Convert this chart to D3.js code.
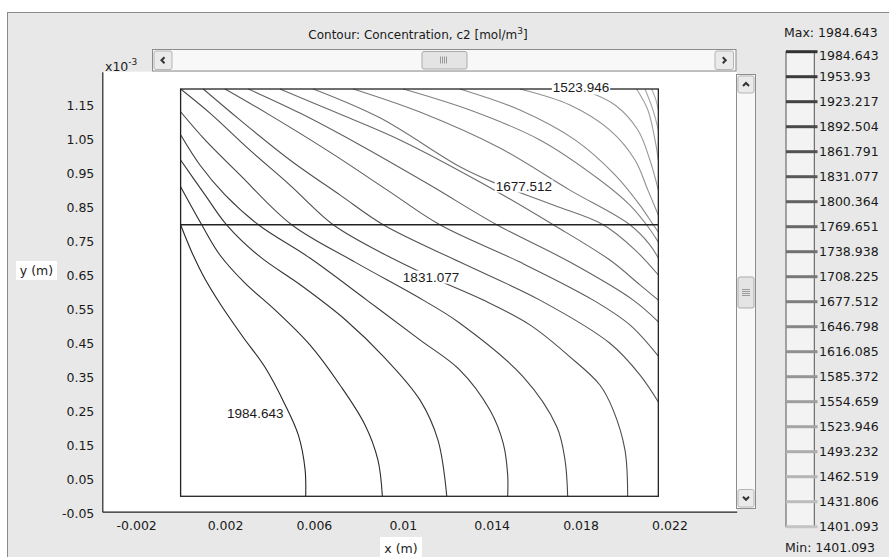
<!DOCTYPE html>
<html><head><meta charset="utf-8">
<script src="https://cdn.jsdelivr.net/npm/d3@7"></script>
<style>
body{margin:0;background:#fff}
svg{display:block}
text{font-family:"DejaVu Sans",Verdana,sans-serif;fill:#1a1a1a}
</style>
</head><body>
<svg id="chart" width="889" height="557"></svg>
<script>
// ---------- data ----------
const levels = [1984.643,1953.93,1923.217,1892.504,1861.791,1831.077,1800.364,1769.651,1738.938,1708.225,
                1677.512,1646.798,1616.085,1585.372,1554.659,1523.946,1493.232,1462.519,1431.806,1401.093];
const levelLabels = ["1984.643","1953.93","1923.217","1892.504","1861.791","1831.077","1800.364","1769.651","1738.938","1708.225",
                     "1677.512","1646.798","1616.085","1585.372","1554.659","1523.946","1493.232","1462.519","1431.806","1401.093"];
const maxValue = 1984.643, minValue = 1401.093;
const xTicks = [-0.002,0.002,0.006,0.01,0.014,0.018,0.022];
const xTickLabels = ["-0.002","0.002","0.006","0.01","0.014","0.018","0.022"];
const yTicks = [-0.05,0.05,0.15,0.25,0.35,0.45,0.55,0.65,0.75,0.85,0.95,1.05,1.15];
const yTickLabels = ["-0.05","0.05","0.15","0.25","0.35","0.45","0.55","0.65","0.75","0.85","0.95","1.05","1.15"];
const domainRect = {x0:0, x1:0.0215, y0:0, y1:1.2};   // geometry (x in m, y in 1e-3 m)
const interfaceY = 0.8;

// contour lines: [x (m), y (x1e-3 m)]
const line0  = [[0,0.80],[0.0005,0.72],[0.0011,0.64],[0.0018,0.565],[0.0028,0.47],[0.0038,0.38],[0.0047,0.27],[0.0053,0.18],[0.0056,0.08],[0.00563,0]];
const line1  = [[0,0.912],[0.00095,0.80],[0.00177,0.711],[0.0029,0.628],[0.00425,0.549],[0.00582,0.446],[0.00717,0.328],[0.0083,0.21],[0.00888,0.107],[0.00908,0]];
const line2  = [[0,0.991],[0.0011,0.888],[0.00207,0.80],[0.00357,0.706],[0.00537,0.624],[0.0074,0.521],[0.0092,0.407],[0.01077,0.284],[0.01158,0.166],[0.01198,0]];
const line3  = [[0,1.065],[0.00087,0.976],[0.0020,0.888],[0.0035,0.80],[0.00582,0.702],[0.00838,0.578],[0.01077,0.461],[0.01257,0.372],[0.01392,0.254],[0.01452,0.156],[0.01472,0.063],[0.01472,0]];
const line4  = [[0,1.133],[0.0011,1.05],[0.00267,0.947],[0.0050,0.80],[0.00785,0.69],[0.01092,0.578],[0.01257,0.51],[0.01542,0.352],[0.01693,0.205],[0.0173,0.107],[0.01742,0]];
const line5  = [[0,1.2],[0.00132,1.129],[0.00312,1.02],[0.00492,0.917],[0.00687,0.80],[0.00897,0.72],[0.01127,0.646],[0.01362,0.578],[0.01572,0.505],[0.01752,0.411],[0.01887,0.328],[0.01947,0.254],[0.0200,0.136],[0.02012,0]];
const line6  = [[0.00102,1.2],[0.00267,1.109],[0.00492,0.991],[0.00717,0.888],[0.00912,0.80],[0.01257,0.69],[0.01617,0.578],[0.01932,0.451],[0.02067,0.358],[0.0215,0.278]];
const line7  = [[0.0020,1.2],[0.00402,1.123],[0.00672,1.014],[0.00942,0.897],[0.01167,0.80],[0.01527,0.69],[0.01857,0.578],[0.02022,0.505],[0.0215,0.413]];
const line8  = [[0.00305,1.2],[0.00537,1.129],[0.00807,1.035],[0.01122,0.917],[0.01423,0.80],[0.01752,0.69],[0.02037,0.578],[0.0215,0.514]];
const line9  = [[0.00447,1.2],[0.00695,1.132],[0.00987,1.05],[0.01347,0.926],[0.01677,0.80],[0.01932,0.696],[0.02067,0.623],[0.0215,0.578]];
const line10 = [[0.00597,1.2],[0.00897,1.115],[0.01257,0.971],[0.01415,0.923],[0.01677,0.858],[0.01902,0.80],[0.02045,0.726],[0.0215,0.652]];
const line11 = [[0.00777,1.2],[0.01077,1.132],[0.01437,1.026],[0.01752,0.902],[0.02022,0.80],[0.02112,0.741],[0.0215,0.702]];
const line12 = [[0.01002,1.2],[0.01302,1.138],[0.01617,1.05],[0.01887,0.932],[0.02022,0.858],[0.02097,0.80],[0.0215,0.749]];
const line13 = [[0.01257,1.2],[0.01527,1.138],[0.01775,1.05],[0.01955,0.947],[0.02067,0.858],[0.02127,0.80],[0.0215,0.779]];
const line14 = [[0.01527,1.2],[0.01752,1.153],[0.01932,1.079],[0.02045,0.991],[0.02103,0.902],[0.0215,0.829]];
const line15 = [[0.01802,1.2],[0.01955,1.153],[0.02058,1.079],[0.02112,0.991],[0.0215,0.902]];
const line16 = [[0.02052,1.2],[0.02103,1.138],[0.02135,1.05],[0.0215,0.991]];
const line17 = [[0.0209,1.2],[0.02126,1.138],[0.0215,1.079]];
const line18 = [[0.0212,1.2],[0.02139,1.168],[0.0215,1.138]];
const contourLines = [line0,line1,line2,line3,line4,line5,line6,line7,line8,line9,line10,line11,line12,line13,line14,line15,line16,line17,line18];

// inline contour labels: level index and anchor point
const labelLevels = [0,5,10,15];
const labelPoints = [[0.00336,0.245],[0.01127,0.646],[0.01545,0.914],[0.01802,1.203]];

// ---------- layout ----------
const svg = d3.select("#chart");
const plot = {left:102.3, right:736.7, top:71.7, bottom:511.7};
const x = d3.scaleLinear().domain([-0.003524,0.025027]).range([plot.left, plot.right]);
const y = d3.scaleLinear().domain([-0.0454,1.251]).range([plot.bottom, plot.top]);
const lineColor = d3.scaleLinear().domain([minValue,maxValue]).range(["#b4b4b4","#262626"]);
const legColor = d3.scaleLinear().domain([minValue,maxValue]).range(["#c4c4c4","#333333"]);

// panel
svg.append("rect").attr("x",7.5).attr("y",12.5).attr("width",900).attr("height",560)
  .attr("fill","#e8e8e8").attr("stroke","#8a8a8a");

// title
const title = svg.append("text").attr("x",418).attr("y",39).attr("text-anchor","middle")
  .style("font-size","12px");
title.append("tspan").text("Contour: Concentration, c2 [mol/m");
title.append("tspan").attr("dy",-5).style("font-size","9px").text("3");
title.append("tspan").attr("dy",5).text("]");

// plot area
svg.append("rect").attr("x",plot.left).attr("y",plot.top).attr("width",plot.right-plot.left)
  .attr("height",plot.bottom-plot.top).attr("fill","#fff");

// axes
const yAxis = d3.axisLeft(y).tickValues(yTicks).tickSize(0).tickPadding(8).tickFormat((d,i) => yTickLabels[i]);
const xAxis = d3.axisBottom(x).tickValues(xTicks).tickSize(0).tickPadding(9).tickFormat((d,i) => xTickLabels[i]);
const gy = svg.append("g").attr("transform",`translate(${plot.left},0)`).call(yAxis);
const gx = svg.append("g").attr("transform",`translate(0,${plot.bottom})`).call(xAxis);
[gx,gy].forEach(g => {
  g.select(".domain").attr("stroke","#222").attr("stroke-width",1.2);
  g.selectAll("text").style("font-family","'DejaVu Sans',Verdana,sans-serif").style("font-size","12.5px").attr("fill","#1a1a1a");
});

// x10^-3
const mult = svg.append("text").attr("x",105).attr("y",70.5).style("font-size","12.5px");
mult.append("tspan").text("x10");
mult.append("tspan").attr("dy",-6).style("font-size","9px").text("-3");

// axis titles with white boxes
svg.append("rect").attr("x",16).attr("y",261).attr("width",41).attr("height",19).attr("fill","#fff");
svg.append("text").attr("x",36.5).attr("y",275).attr("text-anchor","middle").style("font-size","12.5px").text("y (m)");
svg.append("rect").attr("x",380).attr("y",537).attr("width",42).attr("height",20).attr("fill","#fff");
svg.append("text").attr("x",401).attr("y",553).attr("text-anchor","middle").style("font-size","12.5px").text("x (m)");

// geometry
const geo = svg.append("g");
const path = d3.line().x(d => x(d[0])).y(d => y(d[1])).curve(d3.curveCatmullRom.alpha(0.5));
geo.selectAll("path.contour").data(contourLines).join("path").attr("class","contour")
  .attr("d",path).attr("fill","none").attr("stroke",(d,i) => lineColor(levels[i])).attr("stroke-width",1.1);
geo.append("rect").attr("x",x(domainRect.x0)).attr("y",y(domainRect.y1))
  .attr("width",x(domainRect.x1)-x(domainRect.x0)).attr("height",y(domainRect.y0)-y(domainRect.y1))
  .attr("fill","none").attr("stroke","#222").attr("stroke-width",1.3);
geo.append("line").attr("x1",x(domainRect.x0)).attr("x2",x(domainRect.x1))
  .attr("y1",y(interfaceY)).attr("y2",y(interfaceY)).attr("stroke","#222").attr("stroke-width",1.6);

// contour labels
labelLevels.forEach((li,i) => {
  const g = svg.append("g");
  const t = g.append("text").attr("x",x(labelPoints[i][0])).attr("y",y(labelPoints[i][1]))
    .attr("text-anchor","middle").attr("dominant-baseline","central")
    .style("font-family","'Liberation Sans',Arial,sans-serif").style("font-size","13.5px").attr("fill","#111")
    .text(levelLabels[li]);
  const bb = t.node().getBBox();
  g.insert("rect","text").attr("x",bb.x-1).attr("y",bb.y+1).attr("width",bb.width+2).attr("height",bb.height-2).attr("fill","#fff");
});

// scrollbar buttons
function button(xx,yy,w,h,dir){
  svg.append("rect").attr("x",xx).attr("y",yy).attr("width",w).attr("height",h).attr("rx",2)
    .attr("fill","#eaeaea").attr("stroke","#b5b5b5");
  const cx = xx+w/2, cy = yy+h/2, s=3;
  let p;
  if(dir==="l") p=[[cx+s/2,cy-s],[cx-s/2,cy],[cx+s/2,cy+s]];
  if(dir==="r") p=[[cx-s/2,cy-s],[cx+s/2,cy],[cx-s/2,cy+s]];
  if(dir==="u") p=[[cx-s,cy+s/2],[cx,cy-s/2],[cx+s,cy+s/2]];
  if(dir==="d") p=[[cx-s,cy-s/2],[cx,cy+s/2],[cx+s,cy-s/2]];
  svg.append("path").attr("d",d3.line()(p)).attr("fill","none").attr("stroke","#333").attr("stroke-width",2);
}
// horizontal scrollbar
svg.append("rect").attr("x",152.5).attr("y",49.5).attr("width",583.5).attr("height",21.5).attr("fill","#f8f8f8").attr("stroke","#8c8c8c");
button(154,51,18,18.5,"l");
button(715,51,18.5,18.5,"r");
svg.append("rect").attr("x",422).attr("y",51.5).attr("width",45).attr("height",17.5).attr("rx",2).attr("fill","#e4e4e4").attr("stroke","#ababab");
for(let i=0;i<4;i++) svg.append("line").attr("x1",440.5+i*2).attr("x2",440.5+i*2).attr("y1",56.5).attr("y2",63.5).attr("stroke","#9a9a9a");

// vertical scrollbar
svg.append("rect").attr("x",736.5).attr("y",74.5).attr("width",19).attr("height",434).attr("fill","#f8f8f8").attr("stroke","#8c8c8c");
button(738,76,16,17,"u");
button(738,489.5,16,17.5,"d");
svg.append("rect").attr("x",738).attr("y",277).attr("width",16).attr("height",31).attr("rx",2).attr("fill","#e4e4e4").attr("stroke","#ababab");
for(let i=0;i<4;i++) svg.append("line").attr("x1",742).attr("x2",750).attr("y1",289.5+i*2).attr("y2",289.5+i*2).attr("stroke","#9a9a9a");

// legend
const leg = d3.scaleLinear().domain([minValue,maxValue]).range([526.7,51.7]);
svg.append("rect").attr("x",786).attr("y",51.7).attr("width",28.3).attr("height",475).attr("fill","#f3f3f3").attr("stroke","#555");
svg.selectAll("line.leg").data(levels).join("line").attr("class","leg")
  .attr("x1",786).attr("x2",817.5).attr("y1",d=>leg(d)).attr("y2",d=>leg(d))
  .attr("stroke",d=>legColor(d)).attr("stroke-width",3);
svg.selectAll("text.leg").data(levels).join("text").attr("class","leg")
  .attr("x",819).attr("y",(d,i)=>leg(d)+(i===0?4:0)).attr("dominant-baseline","central")
  .style("font-size","12.5px").text((d,i)=>levelLabels[i]);
svg.append("text").attr("x",784).attr("y",32.5).attr("dominant-baseline","central").style("font-size","12.5px").text("Max: "+levelLabels[0]);
svg.append("text").attr("x",785).attr("y",547).attr("dominant-baseline","central").style("font-size","12.5px").text("Min: "+levelLabels[19]);
</script>
</body></html>
